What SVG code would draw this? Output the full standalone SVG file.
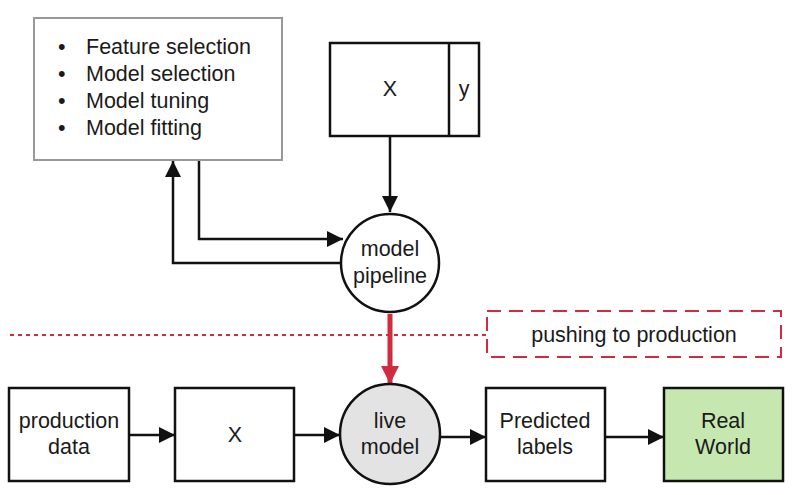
<svg xmlns="http://www.w3.org/2000/svg" width="795" height="495" viewBox="0 0 795 495">
<defs>
<style>
text{font-family:"Liberation Sans",Arial,sans-serif;font-size:21.5px;fill:#1a1a1a;}
.c{text-anchor:middle;}
.box{fill:#fff;stroke:#111;stroke-width:2.5;}
.ln{fill:none;stroke:#111;stroke-width:2.5;}
</style>
<marker id="ahb" markerWidth="16" markerHeight="16" refX="16" refY="8" orient="auto" markerUnits="userSpaceOnUse" viewBox="0 0 16 16">
<path d="M0,0 L16,8 L0,16 Z" fill="#111"/>
</marker>
<marker id="ahr" markerWidth="18" markerHeight="18" refX="18" refY="9" orient="auto" markerUnits="userSpaceOnUse" viewBox="0 0 18 18">
<path d="M0,0 L18,9 L0,18 Z" fill="#d22b40"/>
</marker>
</defs>
<g id="connectors">
<path class="ln" d="M199,160 V239 H343" marker-end="url(#ahb)"/>
<path class="ln" d="M341,263 H173 V161" marker-end="url(#ahb)"/>
<path class="ln" d="M390,136 V212" marker-end="url(#ahb)"/>
<line x1="10" y1="335" x2="487" y2="335" stroke="#d22b40" stroke-width="2" stroke-dasharray="4,4"/>
<path d="M390,314 V384" fill="none" stroke="#d22b40" stroke-width="5" marker-end="url(#ahr)"/>
<path class="ln" d="M129,435 H175" marker-end="url(#ahb)"/>
<path class="ln" d="M294,435 H340" marker-end="url(#ahb)"/>
<path class="ln" d="M440,437 H486" marker-end="url(#ahb)"/>
<path class="ln" d="M605,437 H664" marker-end="url(#ahb)"/>
</g>
<g id="tasks">
<rect x="34" y="18" width="248" height="142" fill="#fff" stroke="#999" stroke-width="2"/>
<text x="58" y="54">•</text><text x="86" y="54">Feature selection</text>
<text x="58" y="81">•</text><text x="86" y="81">Model selection</text>
<text x="58" y="108">•</text><text x="86" y="108">Model tuning</text>
<text x="58" y="135">•</text><text x="86" y="135">Model fitting</text>
</g>
<g id="training-data">
<rect class="box" x="330" y="43" width="149" height="93"/>
<line class="ln" x1="449" y1="43" x2="449" y2="136"/>
<text class="c" x="390" y="96">X</text>
<text class="c" x="464" y="96">y</text>
</g>
<g id="model-pipeline">
<circle cx="390" cy="263" r="49" fill="#fff" stroke="#111" stroke-width="2.5"/>
<text class="c" x="390" y="256">model</text>
<text class="c" x="390" y="283">pipeline</text>
</g>
<g id="pushing">
<rect x="487" y="311" width="294" height="46" fill="none" stroke="#d22b40" stroke-width="2" stroke-dasharray="14,8"/>
<text class="c" x="634" y="342">pushing to production</text>
</g>
<g id="production-data">
<rect class="box" x="9" y="388" width="120" height="93"/>
<text class="c" x="69" y="428">production</text>
<text class="c" x="69" y="454">data</text>
</g>
<g id="x-prod">
<rect class="box" x="175" y="388" width="119" height="93"/>
<text class="c" x="235" y="442">X</text>
</g>
<g id="live-model">
<circle cx="390" cy="434" r="50" fill="#e3e3e3" stroke="#111" stroke-width="2.5"/>
<text class="c" x="390" y="428">live</text>
<text class="c" x="390" y="454">model</text>
</g>
<g id="predicted-labels">
<rect class="box" x="486" y="388" width="119" height="93"/>
<text class="c" x="545" y="428">Predicted</text>
<text class="c" x="545" y="454">labels</text>
</g>
<g id="real-world">
<rect x="664" y="388" width="119" height="93" fill="#c6e8b0" stroke="#111" stroke-width="2.5"/>
<text class="c" x="723" y="428">Real</text>
<text class="c" x="723" y="454">World</text>
</g>
</svg>
